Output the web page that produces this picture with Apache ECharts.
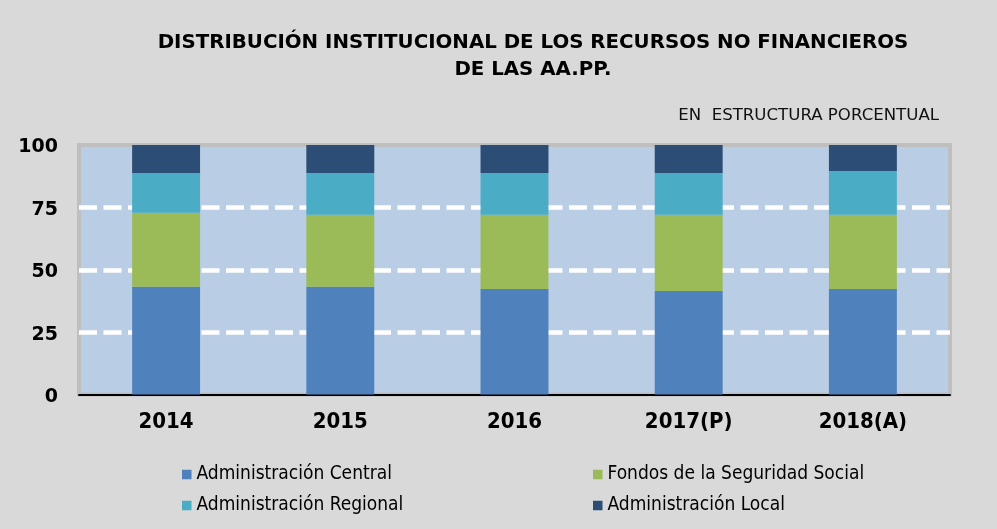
<!DOCTYPE html>
<html>
<head>
<meta charset="utf-8">
<script src="https://cdn.jsdelivr.net/npm/echarts@6/dist/echarts.min.js"></script>
<style>
  html, body { margin: 0; padding: 0; background: #d9d9d9; }
  #container { width: 997px; height: 529px; }
</style>
</head>
<body>
<div id="container"></div>
<script>
// datos (estructura porcentual)
const years = ['2014', '2015', '2016', '2017(P)', '2018(A)'];
const central = [43.2, 43.2, 42.3, 41.5, 42.3];
const fondos = [29.6, 28.8, 29.7, 30.5, 29.7];
const regional = [16.0, 16.8, 16.8, 16.8, 17.6];
const local = [11.2, 11.2, 11.2, 11.2, 10.4];
const yTicks = [0, 25, 50, 75, 100];

const condensed = "'DejaVu Sans Condensed', 'DejaVu Sans', sans-serif";
const wide = "'DejaVu Sans', sans-serif";

const chart = echarts.init(document.getElementById('container'), null, { renderer: 'canvas' });

function barSeries(name, data, color) {
    return {
        name: name,
        type: 'bar',
        stack: 'total',
        barWidth: '39%',
        data: data,
        itemStyle: { color: color },
        emphasis: { disabled: true }
    };
}

const option = {
    backgroundColor: '#d9d9d9',
    animation: false,
    title: [
        {
            text: 'DISTRIBUCIÓN INSTITUCIONAL DE LOS RECURSOS NO FINANCIEROS\nDE LAS AA.PP.',
            left: 528,
            top: 24,
            textAlign: 'center',
            textStyle: { fontFamily: wide, fontWeight: 'bold', fontSize: 19.8, lineHeight: 27, color: '#000' }
        },
        {
            text: 'EN  ESTRUCTURA PORCENTUAL',
            right: 53,
            top: 102,
            textStyle: { fontFamily: wide, fontWeight: 'normal', fontSize: 16.6, color: '#111' }
        }
    ],
    legend: [
        {
            data: ['Administración Central', 'Administración Regional'],
            orient: 'vertical',
            left: 177,
            top: 459.5,
            icon: 'rect',
            itemWidth: 9.5,
            itemHeight: 9.5,
            itemGap: 11,
            selectedMode: false,
            textStyle: { fontFamily: condensed, fontSize: 19, lineHeight: 20, color: '#000' }
        },
        {
            data: ['Fondos de la Seguridad Social', 'Administración Local'],
            orient: 'vertical',
            left: 588,
            top: 459.5,
            icon: 'rect',
            itemWidth: 9.5,
            itemHeight: 9.5,
            itemGap: 11,
            selectedMode: false,
            textStyle: { fontFamily: condensed, fontSize: 19, lineHeight: 20, color: '#000' }
        }
    ],
    grid: {
        left: 79,
        top: 145,
        width: 871,
        height: 249.5,
        show: true,
        backgroundColor: '#b9cde5',
        borderColor: '#bfbfbf',
        borderWidth: 4
    },
    xAxis: {
        type: 'category',
        data: years,
        axisLine: { lineStyle: { color: '#000', width: 2 } },
        axisTick: { show: false },
        axisLabel: { fontFamily: condensed, fontWeight: 'bold', fontSize: 22, color: '#000', margin: 17 }
    },
    yAxis: {
        type: 'value',
        min: yTicks[0],
        max: yTicks[yTicks.length - 1],
        interval: yTicks[1] - yTicks[0],
        axisLine: { show: false },
        axisTick: { show: false },
        axisLabel: {
            fontFamily: wide, fontWeight: 'bold', fontSize: 19, color: '#000', margin: 21,
            verticalAlign: 'top', lineHeight: 5
        },
        splitLine: {
            show: true,
            showMinLine: false,
            showMaxLine: false,
            lineStyle: { color: '#ffffff', width: 4.5, type: [18, 6.5] }
        }
    },
    series: [
        barSeries('Administración Central', central, '#4f81bd'),
        barSeries('Fondos de la Seguridad Social', fondos, '#9bbb59'),
        barSeries('Administración Regional', regional, '#4bacc6'),
        barSeries('Administración Local', local, '#2c4d75')
    ]
};

chart.setOption(option);
window.addEventListener('resize', () => chart.resize());
</script>
</body>
</html>
